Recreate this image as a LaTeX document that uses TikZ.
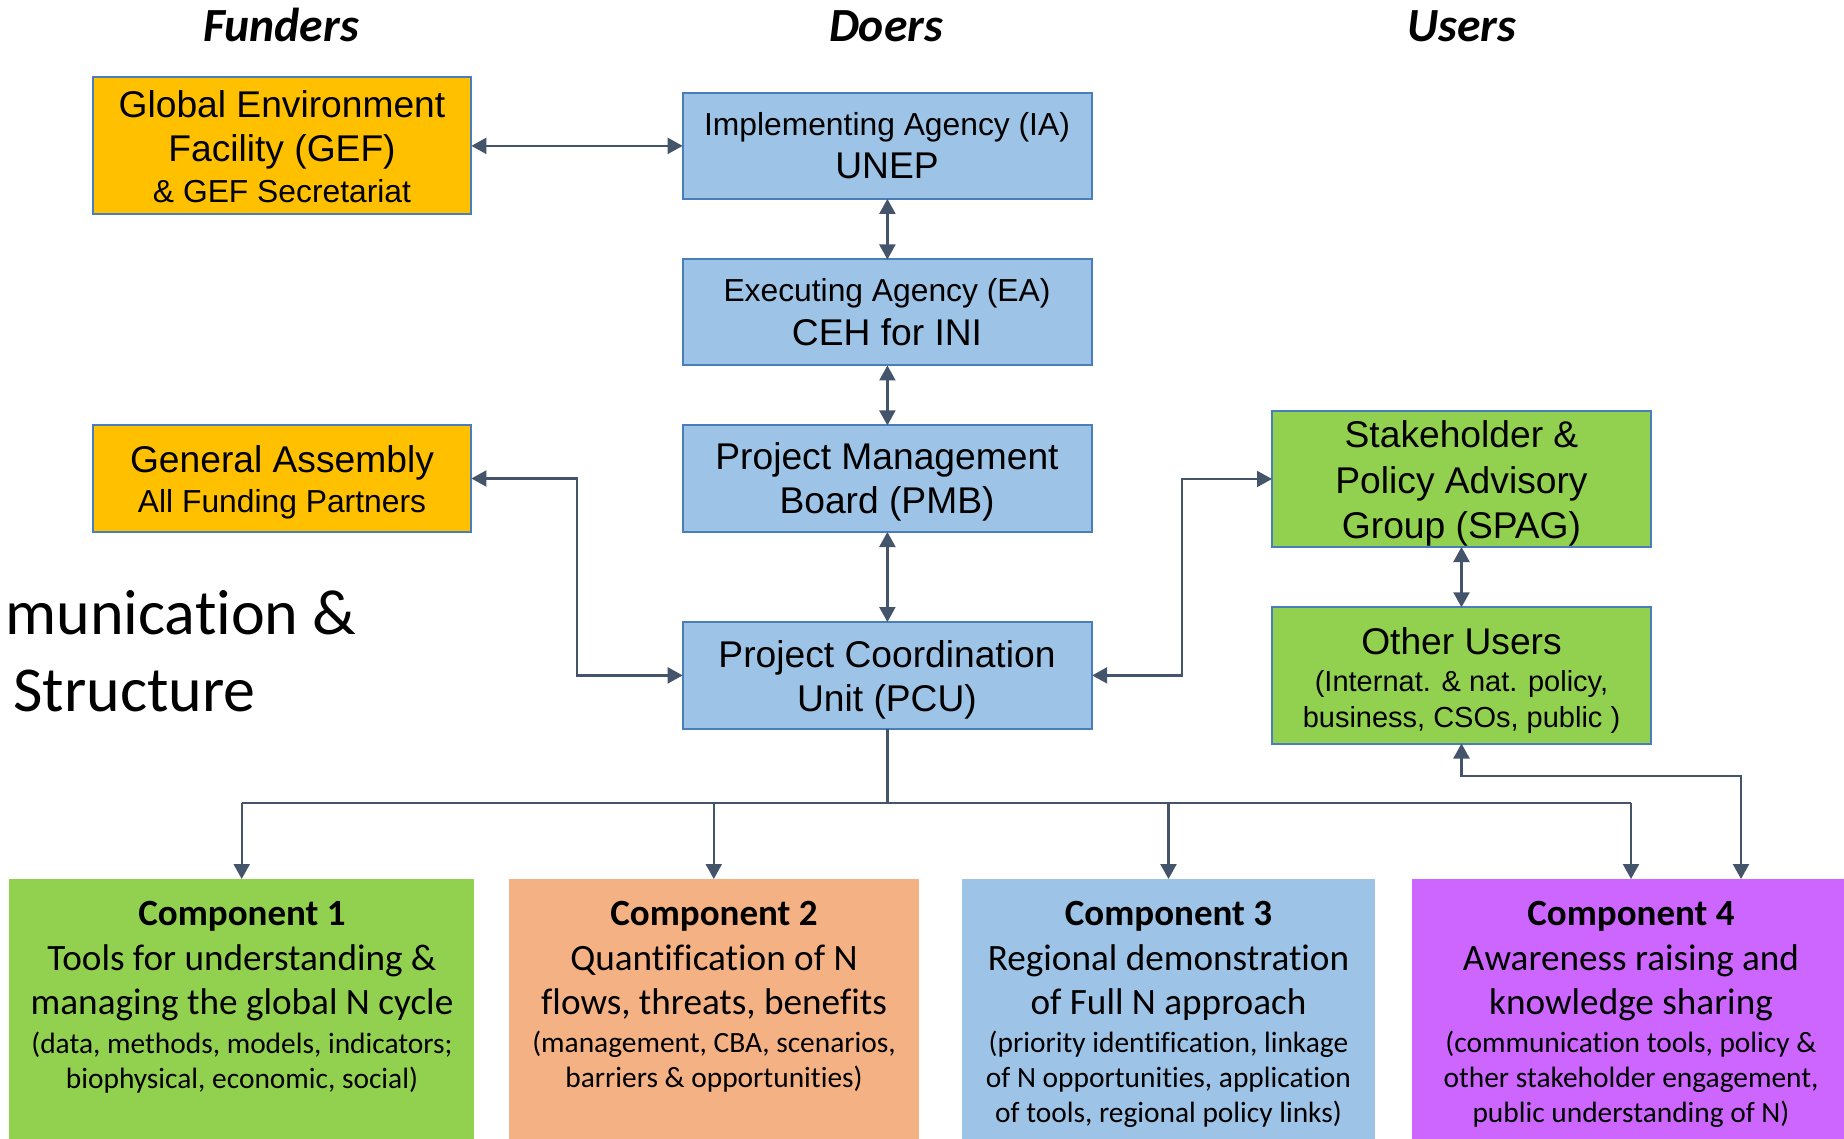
\documentclass[tikz,border=0pt]{standalone}
\usepackage{fontspec}
\setmainfont{Liberation Sans}
\newfontfamily\calib[Ligatures=NoCommon]{Carlito}
\usetikzlibrary{arrows.meta}
\definecolor{bordblue}{HTML}{4A7EBB}
\definecolor{connc}{HTML}{44546A}
\definecolor{orangeF}{HTML}{FFC000}
\definecolor{blueF}{HTML}{9DC3E6}
\definecolor{greenF}{HTML}{92D050}
\definecolor{salmonF}{HTML}{F4B183}
\definecolor{purpleF}{HTML}{CC66FF}
\tikzset{
  box/.style={draw=bordblue, line width=1pt, inner sep=0pt, outer sep=0pt},
  compbox/.style={draw=none, inner sep=0pt, outer sep=0pt, anchor=north, minimum height=140pt},
  tl/.style={inner sep=0pt, anchor=base},
  abig/.style={tl, font=\fontsize{18.6}{22}\selectfont},
  asmall/.style={tl, font=\fontsize{15.9}{19}\selectfont},
  osmall/.style={tl, font=\fontsize{14.5}{17}\selectfont},
  ctitle/.style={tl, font=\calib\bfseries\fontsize{18.5}{22}\selectfont},
  cbody/.style={tl, font=\calib\fontsize{18.6}{22}\selectfont},
  csmall/.style={tl, font=\calib\fontsize{14.7}{17}\selectfont},
  htitle/.style={tl, font=\calib\bfseries\itshape\fontsize{23.8}{28}\selectfont},
  bigside/.style={inner sep=0pt, anchor=base west, font=\calib\fontsize{32}{38}\selectfont},
  conn/.style={draw=connc, line width=1.1pt},
  tip/.style={-{Triangle[length=7.5pt,width=8pt]}},
  tips/.style={{Triangle[length=7.5pt,width=8pt]}-{Triangle[length=7.5pt,width=8pt]}}
}
\begin{document}
\begin{tikzpicture}[x=0.5pt,y=-0.5pt]
\clip (0,0) rectangle (1844,1139);
\fill[white] (0,0) rectangle (1844,1139);

% column titles
\node[htitle] (tfund) at (281,42) {Funders};
\node[htitle] (tdoer) at (886,42) {Doers};
\node[htitle] (tuser) at (1462,42) {Users};

% side text
\node[bigside] (side1) at (5,634) {munication \&};
\node[bigside] (side2) at (13,711) {Structure};

% boxes
\node[box, fill=orangeF, minimum width=189.4pt, minimum height=68.4pt] (gef) at (282,145.9) {};
\node[box, fill=orangeF, minimum width=189.4pt, minimum height=53.5pt] (ga) at (282,478.5) {};
\node[box, fill=blueF, minimum width=204.8pt, minimum height=53pt] (ia) at (887.4,145.9) {};
\node[box, fill=blueF, minimum width=204.8pt, minimum height=53pt] (ea) at (887.4,312.5) {};
\node[box, fill=blueF, minimum width=204.8pt, minimum height=53.3pt] (pmb) at (887.4,478.7) {};
\node[box, fill=blueF, minimum width=204.8pt, minimum height=53.4pt] (pcu) at (887.4,675.4) {};
\node[box, fill=greenF, minimum width=189.5pt, minimum height=68pt] (spag) at (1461.5,479) {};
\node[box, fill=greenF, minimum width=189.5pt, minimum height=68.1pt] (other) at (1461.5,675.4) {};

\node[compbox, fill=greenF, minimum width=232.3pt] (c1) at (241.7,879) {};
\node[compbox, fill=salmonF, minimum width=204.75pt] (c2) at (713.8,879) {};
\node[compbox, fill=blueF, minimum width=206.5pt] (c3) at (1168.5,879) {};
\node[compbox, fill=purpleF, minimum width=219pt] (c4) at (1631,879) {};

% box texts
\node[abig] (gef1) at (282,118) {Global Environment};
\node[abig] (gef2) at (282,162) {Facility (GEF)};
\node[asmall] (gef3) at (282,203) {\& GEF Secretariat};

\node[asmall] (ia1) at (887,136) {Implementing Agency (IA)};
\node[abig] (ia2) at (887,178.6) {UNEP};

\node[asmall] (ea1) at (887,302) {Executing Agency (EA)};
\node[abig] (ea2) at (887,346) {CEH for INI};

\node[abig] (pmb1) at (887,470) {Project Management};
\node[abig] (pmb2) at (887,514) {Board (PMB)};

\node[abig] (pcu1) at (887,667) {Project Coordination};
\node[abig] (pcu2) at (887,711) {Unit (PCU)};

\node[abig] (ga1) at (282,473) {General Assembly};
\node[asmall] (ga2) at (282,512.5) {All Funding Partners};

\node[abig] (sp1) at (1461.5,448) {Stakeholder \&};
\node[abig] (sp2) at (1461.5,494) {Policy Advisory};
\node[abig] (sp3) at (1461.5,538.5) {Group (SPAG)};

\node[abig] (ou1) at (1461.5,654.6) {Other Users};
\node[osmall] (ou2) at (1461.5,691) {(Internat. \& nat. policy,};
\node[osmall] (ou3) at (1461.5,727) {business, CSOs, public )};

% component texts
\node[ctitle] (c1a) at (242,925) {Component 1};
\node[cbody] (c1b) at (242,970) {Tools for understanding \&};
\node[cbody] (c1c) at (242,1014.5) {managing the global N cycle};
\node[csmall] (c1d) at (242,1053.5) {(data, methods, models, indicators;};
\node[csmall] (c1e) at (242,1088.5) {biophysical, economic, social)};

\node[ctitle] (c2a) at (714,925) {Component 2};
\node[cbody] (c2b) at (714,970) {Quantification of N};
\node[cbody] (c2c) at (714,1014.5) {flows, threats, benefits};
\node[csmall] (c2d) at (714,1052) {(management, CBA, scenarios,};
\node[csmall] (c2e) at (714,1087) {barriers \& opportunities)};

\node[ctitle] (c3a) at (1168.5,925) {Component 3};
\node[cbody] (c3b) at (1168.5,970) {Regional demonstration};
\node[cbody] (c3c) at (1168.5,1014.5) {of Full N approach};
\node[csmall] (c3d) at (1168.5,1052) {(priority identification, linkage};
\node[csmall] (c3e) at (1168.5,1087) {of N opportunities, application};
\node[csmall] (c3f) at (1168.5,1122) {of tools, regional policy links)};

\node[ctitle] (c4a) at (1631,925) {Component 4};
\node[cbody] (c4b) at (1631,970) {Awareness raising and};
\node[cbody] (c4c) at (1631,1014.5) {knowledge sharing};
\node[csmall] (c4d) at (1631,1052) {(communication tools, policy \&};
\node[csmall] (c4e) at (1631,1087) {other stakeholder engagement,};
\node[csmall] (c4f) at (1631,1122) {public understanding of N)};

% connectors
\coordinate (gaTurn) at (577,0);
\coordinate (spTurn) at (1182,0);
\coordinate (busY) at (0,803);
\coordinate (ocTurn) at (1741,776);

\draw[conn, tips] (gef) -- (ia);
\draw[conn, tips] (ia) -- (ea);
\draw[conn, tips] (ea) -- (pmb);
\draw[conn, tips] (pmb) -- (pcu);
\draw[conn, tips] (ga.east) -- (ga.east -| gaTurn) |- (pcu.west);
\draw[conn, tips] (pcu.east) -- (pcu.east -| spTurn) |- (spag.west);
\draw[conn, tips] (spag) -- (other);
\draw[conn] (pcu.south) -- (pcu.south |- busY);
\draw[conn] (c1.north |- busY) -- (c4.north |- busY);
\draw[conn, tip] (c1.north |- busY) -- (c1.north);
\draw[conn, tip] (c2.north |- busY) -- (c2.north);
\draw[conn, tip] (c3.north |- busY) -- (c3.north);
\draw[conn, tip] (c4.north |- busY) -- (c4.north);
\draw[conn, tips] (other.south) |- (ocTurn) -- (c4.north -| ocTurn);
\end{tikzpicture}
\end{document}
